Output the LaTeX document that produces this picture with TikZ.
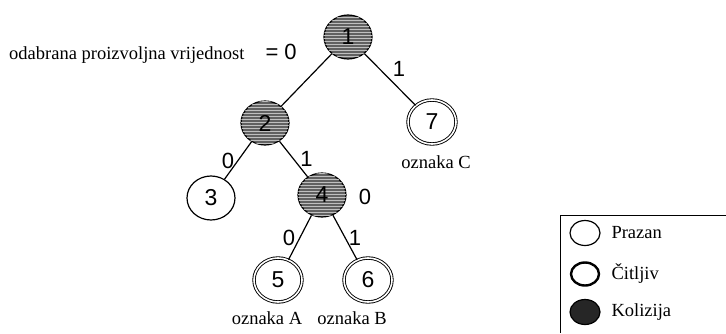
\documentclass[tikz,border=0pt]{standalone}
\usepackage{fontspec}
\setmainfont{Liberation Serif}
\newfontfamily\digitfont{Liberation Sans}
\usepackage{tikz}
\usetikzlibrary{shapes.geometric, patterns}

\tikzset{
	vertex/.style = {ellipse, draw, line width = 1.2pt, minimum width = 48pt, minimum height = 44pt, inner sep = 0pt, font = \digitfont\fontsize{23}{23}\selectfont},
	empty/.style = {vertex, fill = white},
	readable/.style = {vertex, double, double distance = 1.6pt, line width = 0.9pt},
	collision/.style = {vertex, fill = black!62, postaction = {pattern = horizontal lines, pattern color = black!25}},
	bit/.style = {font = \digitfont\fontsize{22}{22}\selectfont},
	caption/.style = {font = \fontsize{18.5}{20}\selectfont},
	key/.style = {ellipse, draw, line width = 1.2pt, minimum width = 30pt, minimum height = 25pt, inner sep = 0pt},
}

\begin{document}
\begin{tikzpicture}[x = 1pt, y = -1pt]
			\useasboundingbox (0,0) rectangle (726,333);
			
			% the tree
			\node[collision] (n1) at (348,37) {1};
			\node[collision] (n2) at (265,123) {2};
			\node[readable] (n7) at (432,122) {7};
			\node[empty] (n3) at (211,198) {3};
			\node[collision] (n4) at (322,195) {4};
			\node[readable] (n5) at (278,280) {5};
			\node[readable] (n6) at (368,280) {6};
			
			\begin{scope}[line width = 1.2pt]
				\draw (n1) -- (n2);
				\draw (n1) -- node [bit, above right = -1pt] {1} (n7);
				\draw (n2) -- node [bit, left = 0pt] {0} (n3);
				\draw (n2) -- node [bit, right = 3pt] {1} (n4);
				\draw (n4) -- node [bit, left = 1pt] {0} (n5);
				\draw (n4) -- node [bit, right = 0pt] {1} (n6);
			\end{scope}
			
			\node[caption, anchor = base east] (choice) at (248,59) {odabrana proizvoljna vrijednost};
			\node[bit, anchor = base west] (zero) at (262,59) {= 0};
			\node[bit] (n4 bit) at (365,197) {0};
			
			\node[caption] (tag A) at (267,318) {oznaka A};
			\node[caption] (tag B) at (352,318) {oznaka B};
			\node[caption] (tag C) at (436,162) {oznaka C};
			
			% legend
			\draw[line width = 1pt] (726,215) -- (560,215) -- (560,333);
			\node[key, fill = white] (k1) at (585,233) {};
			\node[key, line width = 2.4pt, minimum width = 28pt, minimum height = 23pt] (k2) at (585,274) {};
			\node[key, fill = black!85] (k3) at (585,312) {};
			\node[caption, anchor = west] (t1) at (608,233) {Prazan};
			\node[caption, anchor = west] (t2) at (608,274) {Čitljiv};
			\node[caption, anchor = west] (t3) at (608,312) {Kolizija};
		\end{tikzpicture}
\end{document}
